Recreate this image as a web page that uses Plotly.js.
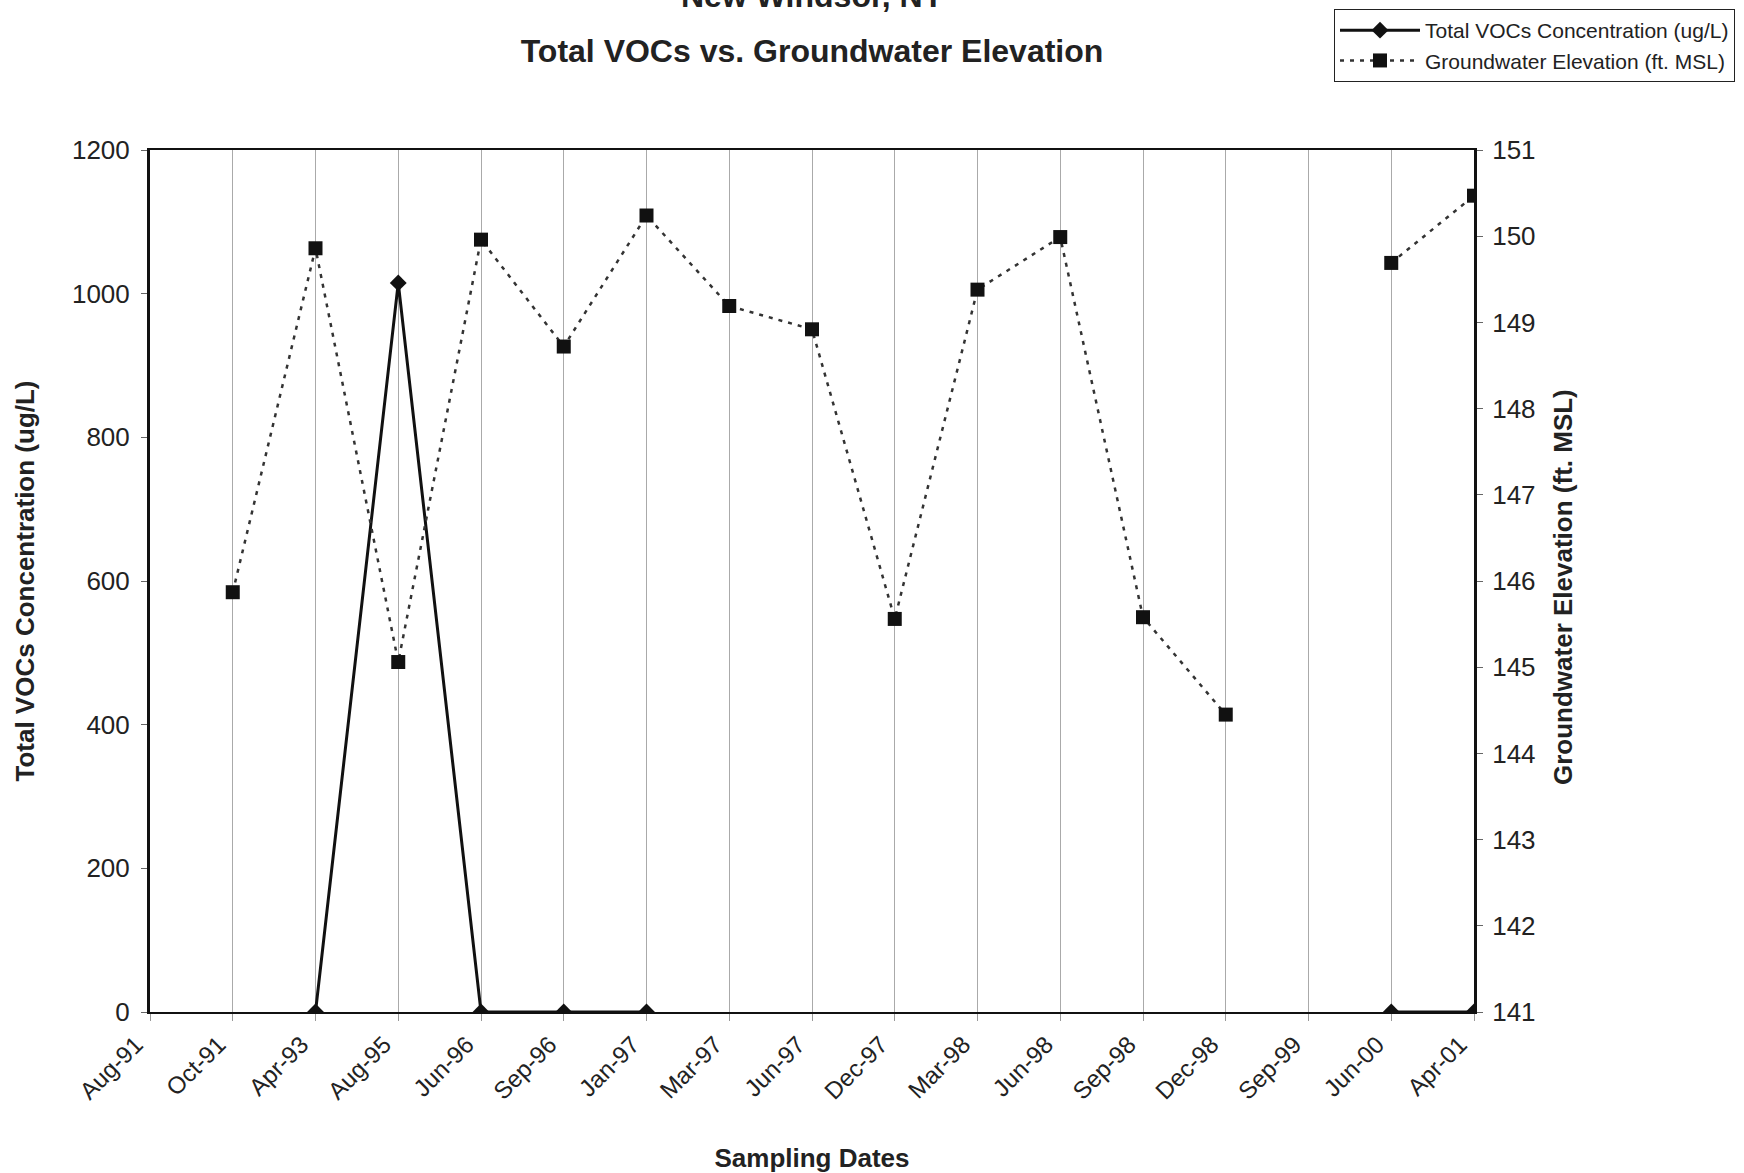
<!DOCTYPE html>
<html>
<head>
<meta charset="utf-8">
<script src="https://cdn.plot.ly/plotly-3.0.1.min.js"></script>
<style>html,body{margin:0;padding:0;background:#fff;}#chart{width:1744px;height:1173px;}</style>
</head>
<body>
<div id="chart"></div>
<script>
const dates = ["Aug-91","Oct-91","Apr-93","Aug-95","Jun-96","Sep-96","Jan-97","Mar-97","Jun-97","Dec-97","Mar-98","Jun-98","Sep-98","Dec-98","Sep-99","Jun-00","Apr-01"];
const totalVOCs = [null,null,0,1015,0,0,0,null,null,null,null,null,null,null,null,0,0];
const gwElevation = [null,145.87,149.86,145.06,149.96,148.72,150.24,149.19,148.92,145.56,149.38,149.99,145.58,144.45,null,149.69,150.47];
const leftTicks = [0,200,400,600,800,1000,1200];
const rightTicks = [141,142,143,144,145,146,147,148,149,150,151];

const font = "Liberation Sans, Arial, sans-serif";

const traces = [
  {
    x: dates, y: totalVOCs, name: "Total VOCs Concentration (ug/L)",
    type: "scatter", mode: "lines+markers", connectgaps: false,
    line: {color: "#111", width: 3},
    marker: {symbol: "diamond", size: 13, color: "#111"},
    yaxis: "y"
  },
  {
    x: dates, y: gwElevation, name: "Groundwater Elevation (ft. MSL)",
    type: "scatter", mode: "lines+markers", connectgaps: false,
    line: {color: "#333", width: 2.5, dash: "4px,6px"},
    marker: {symbol: "square", size: 14, color: "#111"},
    yaxis: "y2"
  }
];

const layout = {
  width: 1744, height: 1173,
  paper_bgcolor: "#fff", plot_bgcolor: "#fff",
  margin: {l: 150, r: 270, t: 150, b: 161, autoexpand: false},
  font: {family: font, color: "#111"},
  title: {
    text: "<b>Total VOCs vs. Groundwater Elevation</b>",
    font: {family: font, size: 32, color: "#222"},
    xref: "paper", x: 0.5, xanchor: "center",
    yref: "container", y: 1 - 51/1173, yanchor: "middle"
  },
  annotations: [
    {
      text: "<b>New Windsor, NY</b>", showarrow: false,
      xref: "paper", x: 0.5, xanchor: "center",
      yref: "paper", y: 1.1787, yanchor: "middle",
      font: {family: font, size: 32, color: "#222"}
    },
    {
      text: "<b>Groundwater Elevation (ft. MSL)</b>", showarrow: false,
      xref: "paper", x: 1.0672, xanchor: "center",
      yref: "paper", y: 0.493, yanchor: "middle",
      textangle: -90,
      font: {family: font, size: 26, color: "#222"}
    }
  ],
  showlegend: true,
  legend: {
    x: 1334/1744, y: 1 - 9/1173, xref: "container", yref: "container",
    xanchor: "left", yanchor: "top",
    bgcolor: "#fff", bordercolor: "#222", borderwidth: 1,
    font: {family: font, size: 21, color: "#222"},
    itemwidth: 80, tracegroupgap: 0
  },
  xaxis: {
    type: "category", range: [0, dates.length - 1],
    tickangle: -45, tickfont: {family: font, size: 24, color: "#222"},
    ticklabelshift: -14,
    showgrid: true, gridcolor: "#aaa", gridwidth: 1,
    showline: true, linecolor: "#111", linewidth: 2, mirror: true,
    ticks: "outside", ticklen: 7, tickcolor: "#999",
    zeroline: false,
    title: {text: "<b>Sampling Dates</b>", font: {family: font, size: 26, color: "#222"}, standoff: 50},
    automargin: false
  },
  yaxis: {
    range: [0, 1200], tickvals: leftTicks, ticktext: leftTicks.map(String),
    tickfont: {family: font, size: 26, color: "#222"},
    ticklabelstandoff: 6,
    showgrid: false, zeroline: false,
    showline: true, linecolor: "#111", linewidth: 3,
    ticks: "outside", ticklen: 6, tickcolor: "#666",
    title: {text: "<b>Total VOCs Concentration (ug/L)</b>", font: {family: font, size: 26, color: "#222"}, standoff: 30},
    automargin: false
  },
  yaxis2: {
    overlaying: "y", side: "right",
    range: [141, 151], tickvals: rightTicks, ticktext: rightTicks.map(String),
    tickfont: {family: font, size: 26, color: "#222"},
    ticklabelstandoff: 4,
    showgrid: false, zeroline: false,
    showline: true, linecolor: "#111", linewidth: 3,
    ticks: "outside", ticklen: 6, tickcolor: "#666",
    automargin: false
  }
};

Plotly.newPlot("chart", traces, layout, {displayModeBar: false, staticPlot: true});
</script>
</body>
</html>
